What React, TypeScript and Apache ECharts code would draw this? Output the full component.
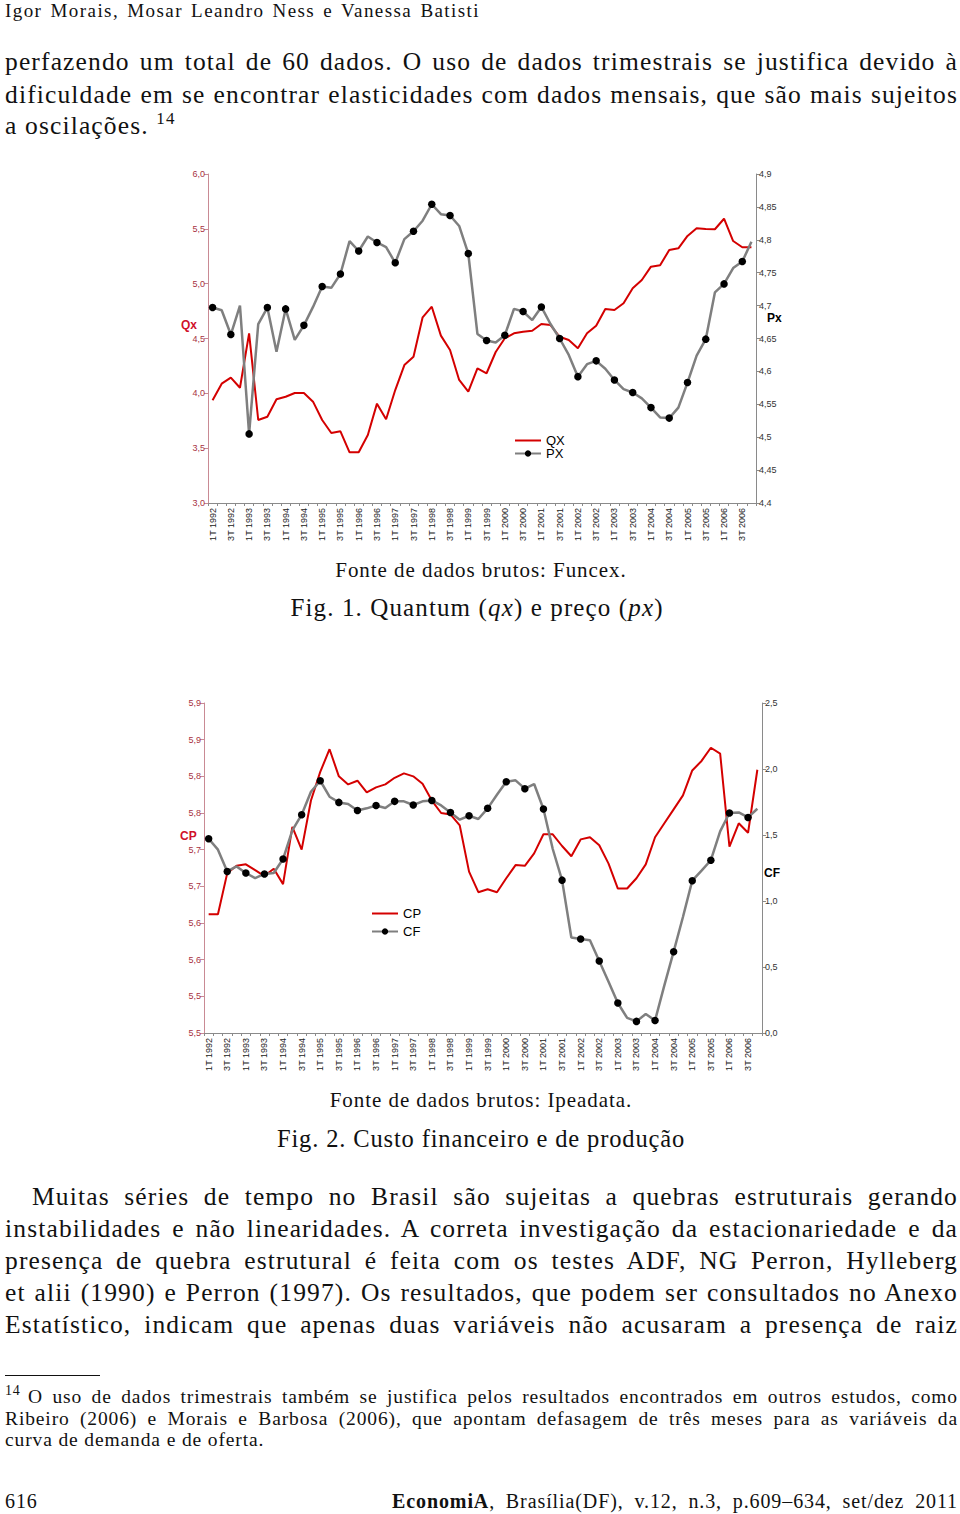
import React, { useEffect, useRef } from "react";
import * as echarts from "echarts";

// ---------- data ----------
const years = [1992, 1993, 1994, 1995, 1996, 1997, 1998, 1999, 2000, 2001, 2002, 2003, 2004, 2005, 2006];
const quarterNames = ["1T", "2T", "3T", "4T"];
const categories: string[] = [];
years.forEach((y) => quarterNames.forEach((q) => categories.push(`${q} ${y}`)));

// Fig. 1 — quantum (left axis) and price (right axis)
const qxValues = [
  3.937, 4.088, 4.143, 4.051, 4.547, 3.757, 3.787, 3.946, 3.969, 4.003,
  4.003, 3.924, 3.757, 3.638, 3.654, 3.462, 3.462, 3.62, 3.906, 3.763,
  4.03, 4.258, 4.334, 4.693, 4.79, 4.526, 4.395, 4.122, 4.015, 4.228,
  4.183, 4.377, 4.502, 4.547, 4.562, 4.571, 4.632, 4.623, 4.516, 4.486,
  4.411, 4.547, 4.617, 4.769, 4.76, 4.821, 4.958, 5.033, 5.155, 5.167,
  5.307, 5.322, 5.435, 5.505, 5.498, 5.496, 5.592, 5.389, 5.332, 5.332,
];
const pxValues = [
  4.697, 4.693, 4.656, 4.7, 4.505, 4.672, 4.697, 4.63, 4.695, 4.648,
  4.67, 4.698, 4.729, 4.727, 4.748, 4.798, 4.783, 4.805, 4.796, 4.789,
  4.765, 4.801, 4.813, 4.829, 4.854, 4.839, 4.837, 4.821, 4.779, 4.657,
  4.647, 4.644, 4.655, 4.695, 4.691, 4.678, 4.698, 4.672, 4.65, 4.625,
  4.592, 4.611, 4.616, 4.604, 4.587, 4.573, 4.568, 4.559, 4.545, 4.53,
  4.529, 4.545, 4.583, 4.624, 4.649, 4.72, 4.733, 4.757, 4.767, 4.797,
];

// Fig. 2 — production cost (left axis) and financial cost (right axis)
const cpValues = [
  5.612, 5.612, 5.668, 5.678, 5.68, 5.672, 5.664, 5.674, 5.653, 5.731,
  5.7, 5.767, 5.806, 5.837, 5.8, 5.789, 5.794, 5.778, 5.785, 5.789,
  5.798, 5.804, 5.8, 5.79, 5.767, 5.75, 5.748, 5.733, 5.67, 5.642,
  5.646, 5.642, 5.661, 5.679, 5.678, 5.695, 5.721, 5.721, 5.705, 5.691,
  5.714, 5.717, 5.706, 5.681, 5.647, 5.647, 5.661, 5.68, 5.717, 5.736,
  5.755, 5.774, 5.808, 5.821, 5.839, 5.831, 5.704, 5.736, 5.723, 5.809,
];
const cfValues = [
  1.472, 1.389, 1.224, 1.262, 1.212, 1.174, 1.205, 1.212, 1.318, 1.535,
  1.654, 1.828, 1.911, 1.79, 1.747, 1.735, 1.686, 1.702, 1.724, 1.705,
  1.755, 1.755, 1.727, 1.755, 1.762, 1.724, 1.671, 1.616, 1.646, 1.621,
  1.702, 1.805, 1.904, 1.914, 1.851, 1.886, 1.697, 1.394, 1.158, 0.724,
  0.712, 0.702, 0.545, 0.389, 0.227, 0.114, 0.088, 0.144, 0.095, 0.361,
  0.616, 0.879, 1.154, 1.23, 1.309, 1.527, 1.667, 1.671, 1.633, 1.699,
];

// tick labels
const qxTicks = ["3,0", "3,5", "4,0", "4,5", "5,0", "5,5", "6,0"];
const pxTicks = ["4,4", "4,45", "4,5", "4,55", "4,6", "4,65", "4,7", "4,75", "4,8", "4,85", "4,9"];
const cpTicks = ["5,5", "5,5", "5,6", "5,6", "5,7", "5,7", "5,8", "5,8", "5,9", "5,9"];
const cfTicks = ["0,0", "0,5", "1,0", "1,5", "2,0", "2,5"];

// ---------- chart ----------
const sans = '"Liberation Sans", Arial, sans-serif';
const serif = '"Liberation Serif", "Times New Roman", serif';

type AxisCfg = { min: number; max: number; interval: number; ticks: string[] };
type ChartCfg = {
  grid: { left: number; right: number; top: number; height: number };
  leftAxis: AxisCfg;
  rightAxis: AxisCfg;
  redName: string;
  blackName: string;
  redData: number[];
  blackData: number[];
  legend: { left: number; top: number; gap: number };
  leftName: { text: string; x: number; y: number };
  rightName: { text: string; x: number; y: number };
};

function labelFormatter(a: AxisCfg) {
  return (v: number) => {
    const i = Math.round((v - a.min) / a.interval);
    return a.ticks[i] ?? "";
  };
}

function makeOption(c: ChartCfg) {
  const leftColor = "#c98a94";
  const grayAxis = "#8a8a8a";
  return {
    animation: false,
    grid: { ...c.grid, containLabel: false },
    legend: {
      orient: "vertical",
      left: c.legend.left,
      top: c.legend.top,
      itemWidth: 26,
      itemHeight: 8,
      itemGap: c.legend.gap,
      padding: 0,
      textStyle: { fontFamily: sans, fontSize: 13, color: "#000", lineHeight: 11 },
      data: [{ name: c.redName, itemStyle: { opacity: 0 } }, { name: c.blackName }],
    },
    xAxis: {
      type: "category",
      data: categories,
      boundaryGap: true,
      axisLine: { show: true, lineStyle: { color: grayAxis, width: 1 } },
      axisTick: { show: true, interval: 0, length: 3, lineStyle: { color: grayAxis } },
      axisLabel: { interval: 1, rotate: 90, fontSize: 9, fontFamily: sans, color: "#222", margin: 5 },
      splitLine: { show: false },
    },
    yAxis: [
      {
        type: "value",
        position: "left",
        min: c.leftAxis.min,
        max: c.leftAxis.max,
        interval: c.leftAxis.interval,
        axisLine: { show: true, lineStyle: { color: leftColor, width: 1 } },
        axisTick: { show: true, length: 4, lineStyle: { color: leftColor } },
        axisLabel: { formatter: labelFormatter(c.leftAxis), fontSize: 9, fontFamily: sans, color: "#a8323f", margin: 3 },
        splitLine: { show: false },
      },
      {
        type: "value",
        position: "right",
        min: c.rightAxis.min,
        max: c.rightAxis.max,
        interval: c.rightAxis.interval,
        axisLine: { show: true, lineStyle: { color: grayAxis, width: 1 } },
        axisTick: { show: true, length: 4, lineStyle: { color: grayAxis } },
        axisLabel: { formatter: labelFormatter(c.rightAxis), fontSize: 9, fontFamily: sans, color: "#333", margin: 3 },
        splitLine: { show: false },
      },
    ],
    series: [
      {
        name: c.redName,
        type: "line",
        yAxisIndex: 0,
        data: c.redData,
        symbol: "none",
        lineStyle: { color: "#d40000", width: 2 },
        itemStyle: { color: "#d40000" },
      },
      {
        name: c.blackName,
        type: "line",
        yAxisIndex: 1,
        data: c.blackData,
        symbol: "circle",
        symbolSize: 7.5,
        lineStyle: { color: "#7f7f7f", width: 2.5 },
        itemStyle: { color: "#000" },
      },
    ],
    graphic: [
      {
        type: "text",
        x: c.leftName.x,
        y: c.leftName.y,
        style: { text: c.leftName.text, font: `bold 12px ${sans}`, fill: "#d0102a", textVerticalAlign: "middle" },
      },
      {
        type: "text",
        x: c.rightName.x,
        y: c.rightName.y,
        style: { text: c.rightName.text, font: `bold 12px ${sans}`, fill: "#000", textVerticalAlign: "middle" },
      },
    ],
  };
}

function Chart({ top, height, cfg }: { top: number; height: number; cfg: ChartCfg }) {
  const ref = useRef<HTMLDivElement>(null);
  useEffect(() => {
    if (!ref.current) return;
    const chart = echarts.init(ref.current, undefined, { renderer: "svg" });
    chart.setOption(makeOption(cfg) as any);
    return () => chart.dispose();
  }, [cfg]);
  return <div ref={ref} style={{ position: "absolute", left: 0, top, width: 960, height }} />;
}

const chart1: ChartCfg = {
  grid: { left: 208, right: 204, top: 14, height: 329 },
  leftAxis: { min: 3, max: 6, interval: 0.5, ticks: qxTicks },
  rightAxis: { min: 4.4, max: 4.9, interval: 0.05, ticks: pxTicks },
  redName: "QX",
  blackName: "PX",
  redData: qxValues,
  blackData: pxValues,
  legend: { left: 514, top: 274, gap: 0 },
  leftName: { text: "Qx", x: 181, y: 165 },
  rightName: { text: "Px", x: 767, y: 158 },
};

const chart2: ChartCfg = {
  grid: { left: 204, right: 198, top: 13, height: 330 },
  leftAxis: { min: 5.45, max: 5.9, interval: 0.05, ticks: cpTicks },
  rightAxis: { min: 0, max: 2.5, interval: 0.5, ticks: cfTicks },
  redName: "CP",
  blackName: "CF",
  redData: cpValues,
  blackData: cfValues,
  legend: { left: 371, top: 217, gap: 5 },
  leftName: { text: "CP", x: 180, y: 146 },
  rightName: { text: "CF", x: 764, y: 183 },
};

// ---------- text ----------
function Line({
  baseline,
  size,
  left = 5,
  width = 953,
  justify = false,
  center = false,
  spacing = 0.045,
  children,
}: {
  baseline: number;
  size: number;
  left?: number;
  width?: number;
  justify?: boolean;
  center?: boolean;
  spacing?: number;
  children: React.ReactNode;
}) {
  const lh = Math.round(size * 1.25);
  return (
    <div
      style={{
        position: "absolute",
        left,
        width,
        top: baseline - lh / 2 - 0.3375 * size,
        fontSize: size,
        lineHeight: `${lh}px`,
        fontFamily: serif,
        letterSpacing: `${spacing}em`,
        color: "#111",
        whiteSpace: "nowrap",
        textAlign: justify ? "justify" : center ? "center" : "left",
        textAlignLast: justify ? "justify" : center ? "center" : "left",
      }}
    >
      {children}
    </div>
  );
}

const sup = (t: string, size: number, raise: number) => (
  <span style={{ fontSize: size, position: "relative", top: -raise }}>{t}</span>
);

export default function App() {
  return (
    <div style={{ position: "absolute", left: 0, top: 0, width: 960, height: 1514, background: "#fff", overflow: "hidden" }}>
      <Line baseline={17.5} size={19} width={475} spacing={0.075} justify>
        Igor Morais, Mosar Leandro Ness e Vanessa Batisti
      </Line>
      <Line baseline={71} size={25.5} justify>
        perfazendo um total de 60 dados. O uso de dados trimestrais se justifica devido à
      </Line>
      <Line baseline={104} size={25.5} justify>
        dificuldade em se encontrar elasticidades com dados mensais, que são mais sujeitos
      </Line>
      <Line baseline={135} size={25.5}>
        a oscilações. {sup("14", 17, 10)}
      </Line>

      <Chart top={160} height={400} cfg={chart1} />

      <Line baseline={577} size={21} left={0} width={962} center>
        Fonte de dados brutos: Funcex.
      </Line>
      <Line baseline={616} size={25} left={0} width={954} center>
        Fig. 1. Quantum (<i>qx</i>) e preço (<i>px</i>)
      </Line>

      <Chart top={690} height={395} cfg={chart2} />

      <Line baseline={1107} size={21} left={0} width={962} center>
        Fonte de dados brutos: Ipeadata.
      </Line>
      <Line baseline={1147} size={24.5} left={0} width={962} spacing={0.035} center>
        Fig. 2. Custo financeiro e de produção
      </Line>

      <Line baseline={1206} size={25.5} left={32} width={926} justify>
        Muitas séries de tempo no Brasil são sujeitas a quebras estruturais gerando
      </Line>
      <Line baseline={1238} size={25.5} justify>
        instabilidades e não linearidades. A correta investigação da estacionariedade e da
      </Line>
      <Line baseline={1270} size={25.5} justify>
        presença de quebra estrutural é feita com os testes ADF, NG Perron, Hylleberg
      </Line>
      <Line baseline={1302} size={25.5} justify>
        et alii (1990) e Perron (1997). Os resultados, que podem ser consultados no Anexo
      </Line>
      <Line baseline={1334} size={25.5} justify>
        Estatístico, indicam que apenas duas variáveis não acusaram a presença de raiz
      </Line>

      <div style={{ position: "absolute", left: 5, top: 1375, width: 95, height: 0, borderTop: "1.5px solid #111" }} />

      <Line baseline={1396} size={14} width={20}>
        14
      </Line>
      <Line baseline={1404} size={19.5} left={28} width={930} justify>
        O uso de dados trimestrais também se justifica pelos resultados encontrados em outros estudos, como
      </Line>
      <Line baseline={1426} size={19.5} justify>
        Ribeiro (2006) e Morais e Barbosa (2006), que apontam defasagem de três meses para as variáveis da
      </Line>
      <Line baseline={1447} size={19.5}>
        curva de demanda e de oferta.
      </Line>

      <Line baseline={1508} size={20} width={60}>
        616
      </Line>
      <Line baseline={1508} size={20} left={392} width={566} justify>
        <b>EconomiA</b>, Brasília(DF), v.12, n.3, p.609–634, set/dez 2011
      </Line>
    </div>
  );
}
